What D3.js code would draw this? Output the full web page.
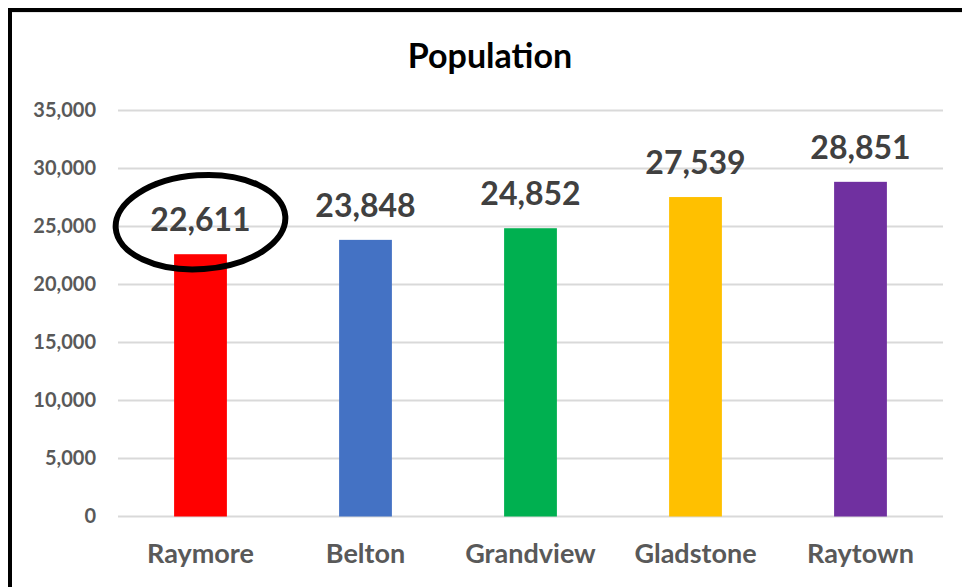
<!DOCTYPE html>
<html><head><meta charset="utf-8">
<script src="https://cdn.jsdelivr.net/npm/d3@7"></script>
<style>
html,body{margin:0;padding:0;background:#fff;}
svg{display:block;}
text{font-family:Lato,"Open Sans",sans-serif;font-weight:700;}
</style></head>
<body>
<svg id="chart" width="962" height="587"></svg>
<script>
const categories = ["Raymore","Belton","Grandview","Gladstone","Raytown"];
const populations = [22611, 23848, 24852, 27539, 28851];
const barColors = ["#ff0000","#4472c4","#00b050","#ffc000","#7030a0"];
const yTicks = [0,5000,10000,15000,20000,25000,30000,35000];
const title = "Population";
const highlighted = "Raymore";

const svg = d3.select("#chart");
svg.append("rect").attr("width",962).attr("height",587).attr("fill","#fff");

const x = d3.scaleBand().domain(categories).range([118,943]).padding(0);
const y = d3.scaleLinear().domain([0,35000]).range([516.5,110.5]);
const fmt = d3.format(",");

// gridlines
svg.append("g").selectAll("line").data(yTicks).join("line")
  .attr("x1",118).attr("x2",943)
  .attr("y1",d=>y(d)).attr("y2",d=>y(d))
  .attr("stroke","#d9d9d9").attr("stroke-width",2);

// y axis labels
const yAxis = d3.axisLeft(y).tickValues(yTicks).tickFormat(fmt).tickSize(0).tickPadding(0);
const gy = svg.append("g").attr("transform","translate(96,0)").call(yAxis);
gy.select(".domain").remove();
gy.selectAll("text").attr("fill","#595959").style("font-size","20px")
  .style("font-family","Lato,'Open Sans',sans-serif").style("font-weight","700");

// x axis labels
const xAxis = d3.axisBottom(x).tickSize(0).tickPadding(0);
const gx = svg.append("g").attr("transform","translate(0,544)").call(xAxis);
gx.select(".domain").remove();
gx.selectAll("text").attr("fill","#595959").attr("dy","0.71em").style("font-size","27px")
  .style("font-family","Lato,'Open Sans',sans-serif").style("font-weight","700");

// bars
const bw = x.bandwidth()*0.32;
const data = categories.map((c,i)=>({c, v:populations[i], col:barColors[i]}));
svg.append("g").selectAll("rect").data(data).join("rect")
  .attr("x",d=>x(d.c)+x.bandwidth()/2-bw/2)
  .attr("width",bw)
  .attr("y",d=>y(d.v))
  .attr("height",d=>y(0)-y(d.v))
  .attr("fill",d=>d.col);

// value labels
svg.append("g").selectAll("text").data(data).join("text")
  .attr("x",d=>x(d.c)+x.bandwidth()/2)
  .attr("y",d=>y(d.v)-23)
  .attr("text-anchor","middle")
  .attr("fill","#404040")
  .style("font-size","32px")
  .text(d=>fmt(d.v));

// title
svg.append("text").attr("x",490).attr("y",68).attr("text-anchor","middle")
  .attr("fill","#000").style("font-size","34px").text(title);

// highlight ellipse
const hc = x(highlighted)+x.bandwidth()/2;
svg.append("ellipse")
  .attr("transform",`translate(${hc},${y(populations[categories.indexOf(highlighted)])-32}) rotate(-4)`)
  .attr("rx",85).attr("ry",47)
  .attr("fill","none").attr("stroke","#000").attr("stroke-width",6);

// frame
svg.append("line").attr("x1",10).attr("x2",10).attr("y1",8).attr("y2",587).attr("stroke","#000").attr("stroke-width",4);
svg.append("line").attr("x1",8).attr("x2",962).attr("y1",10).attr("y2",10).attr("stroke","#000").attr("stroke-width",4);
svg.append("line").attr("x1",12).attr("x2",962).attr("y1",12.5).attr("y2",12.5).attr("stroke","#e6e6e6").attr("stroke-width",1);
</script>
</body></html>
